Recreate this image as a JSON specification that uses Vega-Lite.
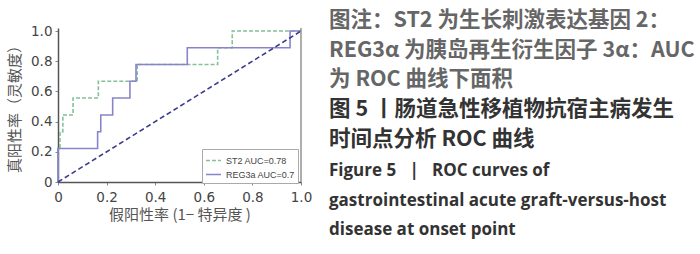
{
  "$schema": "https://vega.github.io/schema/vega-lite/v6.json",
  "background": "white",
  "padding": {"left": 7, "top": 9, "right": 0, "bottom": 0},
  "spacing": 17,
  "config": {
    "view": {"stroke": null},
    "axis": {
      "grid": false, "labelOverlap": false,
      "domainColor": "#555", "domainWidth": 1.5,
      "tickColor": "#888", "tickSize": 3,
      "labelFont": "DejaVu Sans", "labelFontSize": 13.5, "labelColor": "#444",
      "titleFont": "Noto Sans CJK SC", "titleFontSize": 15, "titleFontWeight": "normal",
      "titleColor": "#555"
    }
  },
  "hconcat": [
    {
      "width": 243,
      "height": 154,
      "encoding": {
        "x": {
          "field": "fpr", "type": "quantitative",
          "scale": {"domain": [0, 1], "nice": false},
          "axis": {
            "values": [0, 0.2, 0.4, 0.6, 0.8, 1],
            "labelExpr": "datum.value == 0 ? '0' : format(datum.value, '.1f')",
            "labelOverlap": false, "labelPadding": 5, "labelFlush": false,
            "title": "假阳性率 (1− 特异度 )", "titlePadding": 4
          }
        },
        "y": {
          "field": "tpr", "type": "quantitative",
          "scale": {"domain": [0, 1.02], "nice": false},
          "axis": {
            "values": [0, 0.2, 0.4, 0.6, 0.8, 1],
            "labelExpr": "datum.value == 0 ? '0' : format(datum.value, '.1f')",
            "labelOverlap": false, "labelPadding": 3, "labelFlush": false,
            "title": "真阳性率（灵敏度）", "titlePadding": 8
          }
        }
      },
      "layer": [
        {
          "data": {
            "values": [
              {"series": "ST2  AUC=0.78", "i": 1, "fpr": 0, "tpr": 0},
              {"series": "ST2  AUC=0.78", "i": 2, "fpr": 0, "tpr": 0.222},
              {"series": "ST2  AUC=0.78", "i": 3, "fpr": 0.008, "tpr": 0.222},
              {"series": "ST2  AUC=0.78", "i": 4, "fpr": 0.008, "tpr": 0.333},
              {"series": "ST2  AUC=0.78", "i": 5, "fpr": 0.02, "tpr": 0.333},
              {"series": "ST2  AUC=0.78", "i": 6, "fpr": 0.02, "tpr": 0.444},
              {"series": "ST2  AUC=0.78", "i": 7, "fpr": 0.062, "tpr": 0.444},
              {"series": "ST2  AUC=0.78", "i": 8, "fpr": 0.062, "tpr": 0.556},
              {"series": "ST2  AUC=0.78", "i": 9, "fpr": 0.166, "tpr": 0.556},
              {"series": "ST2  AUC=0.78", "i": 10, "fpr": 0.166, "tpr": 0.667},
              {"series": "ST2  AUC=0.78", "i": 11, "fpr": 0.326, "tpr": 0.667},
              {"series": "ST2  AUC=0.78", "i": 12, "fpr": 0.326, "tpr": 0.778},
              {"series": "ST2  AUC=0.78", "i": 13, "fpr": 0.657, "tpr": 0.778},
              {"series": "ST2  AUC=0.78", "i": 14, "fpr": 0.657, "tpr": 0.889},
              {"series": "ST2  AUC=0.78", "i": 15, "fpr": 0.717, "tpr": 0.889},
              {"series": "ST2  AUC=0.78", "i": 16, "fpr": 0.717, "tpr": 1},
              {"series": "ST2  AUC=0.78", "i": 17, "fpr": 1, "tpr": 1},
              {"series": "REG3a AUC=0.7", "i": 1, "fpr": 0, "tpr": 0},
              {"series": "REG3a AUC=0.7", "i": 2, "fpr": 0, "tpr": 0.222},
              {"series": "REG3a AUC=0.7", "i": 3, "fpr": 0.163, "tpr": 0.222},
              {"series": "REG3a AUC=0.7", "i": 4, "fpr": 0.163, "tpr": 0.333},
              {"series": "REG3a AUC=0.7", "i": 5, "fpr": 0.176, "tpr": 0.333},
              {"series": "REG3a AUC=0.7", "i": 6, "fpr": 0.176, "tpr": 0.444},
              {"series": "REG3a AUC=0.7", "i": 7, "fpr": 0.225, "tpr": 0.444},
              {"series": "REG3a AUC=0.7", "i": 8, "fpr": 0.225, "tpr": 0.556},
              {"series": "REG3a AUC=0.7", "i": 9, "fpr": 0.296, "tpr": 0.556},
              {"series": "REG3a AUC=0.7", "i": 10, "fpr": 0.296, "tpr": 0.667},
              {"series": "REG3a AUC=0.7", "i": 11, "fpr": 0.321, "tpr": 0.667},
              {"series": "REG3a AUC=0.7", "i": 12, "fpr": 0.321, "tpr": 0.778},
              {"series": "REG3a AUC=0.7", "i": 13, "fpr": 0.532, "tpr": 0.778},
              {"series": "REG3a AUC=0.7", "i": 14, "fpr": 0.532, "tpr": 0.889},
              {"series": "REG3a AUC=0.7", "i": 15, "fpr": 0.955, "tpr": 0.889},
              {"series": "REG3a AUC=0.7", "i": 16, "fpr": 0.955, "tpr": 1},
              {"series": "REG3a AUC=0.7", "i": 17, "fpr": 1, "tpr": 1}
            ]
          },
          "mark": {"type": "line", "strokeWidth": 1.6, "interpolate": "linear"},
          "encoding": {
            "order": {"field": "i"},
            "color": {
              "field": "series", "type": "nominal",
              "scale": {"domain": ["ST2  AUC=0.78", "REG3a AUC=0.7"], "range": ["#86bf9c", "#8884cc"]},
              "legend": {
                "title": null,
                "orient": "none",
                "legendX": 144,
                "legendY": 121,
                "fillColor": "white",
                "strokeColor": "#aaa",
                "padding": 3,
                "rowPadding": 0,
                "symbolType": "stroke",
                "symbolSize": 225,
                "symbolStrokeWidth": 1.6,
                "labelFont": "Liberation Sans",
                "labelFontSize": 9,
                "labelColor": "#444"
              }
            },
            "strokeDash": {
              "field": "series", "type": "nominal",
              "scale": {"domain": ["ST2  AUC=0.78", "REG3a AUC=0.7"], "range": [[4, 2], [1, 0]]},
              "legend": null
            }
          }
        },
        {
          "data": {"values": [{"fpr": 0, "tpr": 0}, {"fpr": 1, "tpr": 1}]},
          "mark": {"type": "line", "color": "#3c3c8e", "strokeWidth": 1.6, "strokeDash": [5, 3]}
        },
        {
          "data": {"values": [{"fpr": 1}]},
          "mark": {"type": "rule", "color": "#777", "strokeWidth": 1.2},
          "encoding": {"y": null}
        }
      ]
    },
    {
      "width": 360,
      "height": 207,
      "data": {
        "values": [
          {"line": 1, "part": "note", "text": "图注：ST2 为生长刺激表达基因 2："},
          {"line": 2, "part": "note", "text": "REG3α 为胰岛再生衍生因子 3α：AUC"},
          {"line": 3, "part": "note", "text": "为 ROC 曲线下面积"},
          {"line": 4, "part": "cn", "text": "图 5 丨肠道急性移植物抗宿主病发生"},
          {"line": 5, "part": "cn", "text": "时间点分析 ROC 曲线"},
          {"line": 6, "part": "en", "text": "Figure 5\u00a0\u00a0\u00a0|\u00a0\u00a0\u00a0ROC curves of"},
          {"line": 7, "part": "en", "text": "gastrointestinal acute graft-versus-host"},
          {"line": 8, "part": "en", "text": "disease at onset point"}
        ]
      },
      "encoding": {
        "y": {"field": "line", "type": "quantitative", "scale": {"domain": [1, 8], "range": [-1.3, 207.3], "zero": false, "nice": false}, "axis": null},
        "x": {"value": 0},
        "text": {"field": "text"}
      },
      "layer": [
        {
          "transform": [{"filter": "datum.part == 'note'"}],
          "mark": {"type": "text", "align": "left", "baseline": "alphabetic", "font": "Noto Sans CJK SC", "fontSize": 21.5, "fontWeight": "bold", "color": "#666"}
        },
        {
          "transform": [{"filter": "datum.part == 'cn'"}],
          "mark": {"type": "text", "align": "left", "baseline": "alphabetic", "font": "Noto Sans CJK SC", "fontSize": 21.5, "fontWeight": "bold", "color": "#333"}
        },
        {
          "transform": [{"filter": "datum.part == 'en'"}],
          "mark": {"type": "text", "align": "left", "baseline": "alphabetic", "font": "Open Sans", "fontSize": 17, "fontWeight": "bold", "color": "#333"}
        }
      ]
    }
  ]
}
